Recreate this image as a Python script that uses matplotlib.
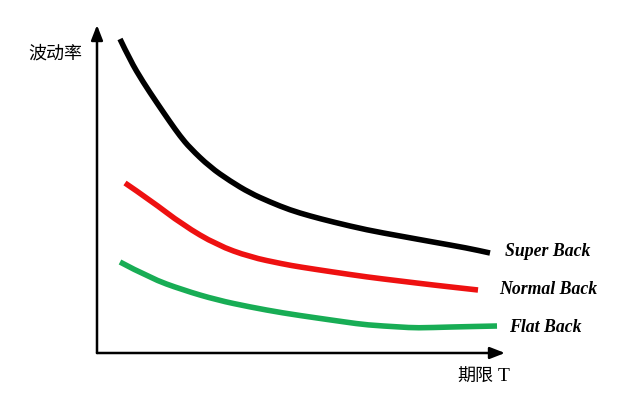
import matplotlib
matplotlib.use("Agg")
import matplotlib.pyplot as plt
from matplotlib.path import Path
from matplotlib.patches import PathPatch

# Term (x) and volatility (y) in picture units measured from the axis origin
super_t = [23, 33, 46, 60, 73, 83, 93, 113, 133, 153, 173, 193, 213, 236, 270, 303, 336, 370, 393]
super_v = [314, 293, 271, 250, 231, 217, 205, 186, 172, 160, 151, 143, 137, 131, 123, 117, 111, 105, 100]
normal_t = [28, 53, 86, 120, 153, 186, 203, 236, 270, 303, 336, 381]
normal_v = [170, 153, 128, 108, 96, 89, 86, 81, 76, 72, 68, 63]
flat_t = [23, 53, 86, 120, 153, 186, 220, 248, 270, 303, 320, 353, 400]
flat_v = [91, 75, 63, 53, 46, 40, 35, 31, 28, 26, 25, 26, 27]

labels = ["Super Back", "Normal Back", "Flat Back"]
colors = ["#000000", "#ee1111", "#18ad55"]


def smooth_path(t, v):
    """Quadratic B-spline style path: read points act as control points."""
    pts = list(zip(t, v))
    verts = [pts[0]]
    codes = [Path.MOVETO]
    for i in range(1, len(pts) - 1):
        mid = ((pts[i][0] + pts[i + 1][0]) / 2, (pts[i][1] + pts[i + 1][1]) / 2)
        verts += [pts[i], mid]
        codes += [Path.CURVE3, Path.CURVE3]
    verts.append(pts[-1])
    codes.append(Path.LINETO)
    return Path(verts, codes)


fig = plt.figure(figsize=(6.4, 4.15), dpi=100)
ax = fig.add_axes([0, 0, 1, 1])
ax.set_xlim(-97, 543)
ax.set_ylim(-62, 353)
ax.axis("off")

for t, v, c in [(super_t, super_v, colors[0]), (normal_t, normal_v, colors[1]), (flat_t, flat_v, colors[2])]:
    ax.add_patch(PathPatch(smooth_path(t, v), facecolor="none", edgecolor=c, lw=4.0,
                           capstyle="butt", joinstyle="round"))

arrow = dict(arrowstyle="-|>,head_length=0.9,head_width=0.35", lw=1.8, color="black",
             shrinkA=0, shrinkB=0)
ax.annotate("", xy=(408, 0), xytext=(0, 0), arrowprops=arrow)
ax.annotate("", xy=(0, 328), xytext=(0, 0), arrowprops=arrow)

lab_font = dict(family="Liberation Serif", weight="bold", style="italic", fontsize=12.8)
ax.text(408, 102, labels[0], ha="left", va="center", **lab_font)
ax.text(402, 63, labels[1], ha="left", va="center", **lab_font)
ax.text(412, 26, labels[2], ha="left", va="center", **lab_font)

cjk = ["Noto Sans CJK SC", "DejaVu Sans"]
ax.text(-69, 299, "波动率", ha="left", va="center", family=cjk, fontsize=13)
ax.text(360, -24, "期限", ha="left", va="center", family=cjk, fontsize=13)
ax.text(401, -23, "T", ha="left", va="center", family="Liberation Serif", fontsize=14)

fig.savefig("out.png", dpi=100)
